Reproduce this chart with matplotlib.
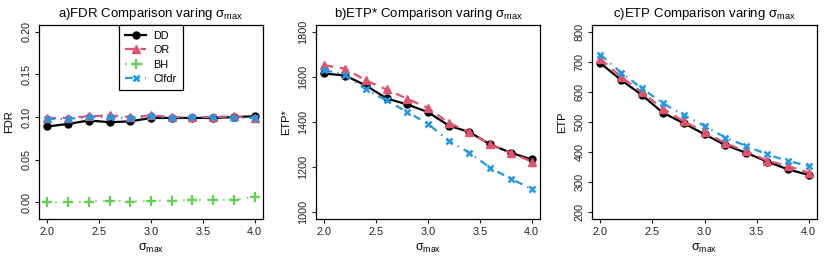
import matplotlib
matplotlib.use("Agg")
import matplotlib.pyplot as plt

plt.rcParams['font.family'] = ['Liberation Sans', 'DejaVu Sans']
plt.rcParams['mathtext.fontset'] = 'custom'
plt.rcParams['mathtext.rm'] = 'Liberation Sans'
plt.rcParams['mathtext.it'] = 'Liberation Sans'
plt.rcParams['mathtext.bf'] = 'Liberation Sans'

sigma_max = [2.0, 2.2, 2.4, 2.6, 2.8, 3.0, 3.2, 3.4, 3.6, 3.8, 4.0]
methods = ["DD", "OR", "BH", "Clfdr"]

fdr_dd = [0.089, 0.092, 0.096, 0.094, 0.095, 0.099, 0.099, 0.099, 0.099, 0.100, 0.101]
fdr_or = [0.099, 0.099, 0.101, 0.102, 0.100, 0.102, 0.100, 0.100, 0.100, 0.101, 0.099]
fdr_bh = [0.000, 0.000, 0.001, 0.002, 0.001, 0.002, 0.002, 0.003, 0.003, 0.003, 0.006]
fdr_clfdr = [0.098, 0.098, 0.100, 0.100, 0.099, 0.101, 0.099, 0.100, 0.100, 0.099, 0.099]

etps_dd = [1616, 1607, 1563, 1505, 1478, 1444, 1384, 1355, 1300, 1263, 1233]
etps_or = [1652, 1638, 1585, 1545, 1503, 1463, 1396, 1355, 1300, 1262, 1224]
etps_clfdr = [1631, 1610, 1545, 1496, 1445, 1392, 1316, 1263, 1196, 1147, 1102]

etp_dd = [697, 640, 590, 531, 496, 459, 423, 397, 368, 342, 323]
etp_or = [711, 651, 599, 545, 502, 467, 429, 402, 371, 353, 331]
etp_clfdr = [725, 665, 612, 563, 523, 487, 448, 420, 392, 370, 353]

black = "#000000"
red = "#DF536B"
green = "#61D04F"
blue = "#2297E6"

styles = {
    "DD": dict(color=black, linestyle="-", marker="o", markersize=5),
    "OR": dict(color=red, linestyle=(0, (4, 3)), marker="^", markersize=6),
    "BH": dict(color=green, linestyle=(0, (0.6, 3)), marker="+", markersize=7, markeredgewidth=1.6),
    "Clfdr": dict(color=blue, linestyle=(0, (3.5, 2.5, 0.6, 2.5)), marker="x", markersize=5, markeredgewidth=1.8),
}

fig = plt.figure(figsize=(8.3, 2.58), dpi=100)
W, H = 830, 258
boxes = [(39, 263), (316, 540), (592, 817)]
top, bot = 25, 219
axes = []
for l, r in boxes:
    ax = fig.add_axes([l / W, 1 - bot / H, (r - l) / W, (bot - top) / H])
    axes.append(ax)

def style_ax(ax, ylim, yticks, ylabel, title):
    ax.set_xlim(1.92, 4.08)
    ax.set_ylim(*ylim)
    ax.set_xticks([2.0, 2.5, 3.0, 3.5, 4.0])
    ax.set_xticklabels(["2.0", "2.5", "3.0", "3.5", "4.0"])
    ax.set_yticks(yticks)
    ax.tick_params(axis='both', direction='out', length=3, width=0.8, pad=2.5,
                   labelsize=7.8, colors='#222222', labelcolor='#222222')
    for lab in ax.get_yticklabels():
        lab.set_rotation(90)
        lab.set_va('center')
    ax.set_ylabel(ylabel, fontsize=8, labelpad=5)
    ax.set_xlabel(r"$\sigma_{\mathrm{max}}$", fontsize=9, labelpad=4)
    ax.set_title(title, fontsize=9.5, pad=6)
    for s in ax.spines.values():
        s.set_linewidth(0.9)

ax = axes[0]
for m, vals in zip(methods, [fdr_dd, fdr_or, fdr_bh, fdr_clfdr]):
    ax.plot(sigma_max, vals, label=m, linewidth=1.6, **styles[m])
style_ax(ax, (-0.0195, 0.208), [0.0, 0.05, 0.10, 0.15, 0.20], "FDR",
         r"a)FDR Comparison varing $\sigma_{\mathrm{max}}$")
ax.set_yticklabels(["0.00", "0.05", "0.10", "0.15", "0.20"])
for lab in ax.get_yticklabels():
    lab.set_rotation(90)
    lab.set_va('center')
leg = ax.legend(loc="upper center", bbox_to_anchor=(0.5, 1.0), borderaxespad=0,
                fancybox=False, edgecolor="black", framealpha=1, fontsize=7.8,
                handlelength=1.9, handletextpad=0.7, labelspacing=0.4,
                borderpad=0.55)
leg.get_frame().set_linewidth(0.9)

ax = axes[1]
for m, vals in zip(["DD", "OR", "Clfdr"], [etps_dd, etps_or, etps_clfdr]):
    ax.plot(sigma_max, vals, label=m, linewidth=1.6, **styles[m])
style_ax(ax, (968, 1832), [1000, 1200, 1400, 1600, 1800], "ETP*",
         r"b)ETP* Comparison varing $\sigma_{\mathrm{max}}$")

ax = axes[2]
for m, vals in zip(["DD", "OR", "Clfdr"], [etp_dd, etp_or, etp_clfdr]):
    ax.plot(sigma_max, vals, label=m, linewidth=1.6, **styles[m])
style_ax(ax, (176, 824), [200, 300, 400, 500, 600, 700, 800], "ETP",
         r"c)ETP Comparison varing $\sigma_{\mathrm{max}}$")

fig.savefig("out.png", dpi=100)
